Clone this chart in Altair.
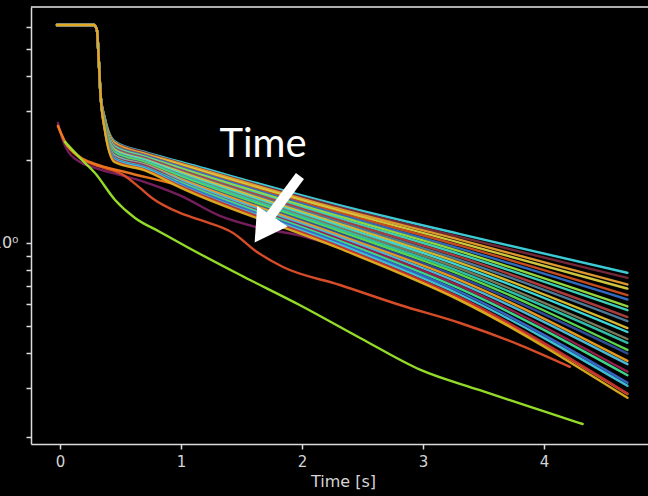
import altair as alt
import pandas as pd

# ---- fan of curves (24 runs): shared flat start and sharp drop ----
t_head = [-0.025, 0.28, 0.305, 0.32, 0.335]
v_head = [6.12, 6.12, 5.87, 4.58, 3.42]

t_fan = [0.37, 0.45, 0.7, 1.0, 2.3, 3.3, 4.69]
col_037 = [2.83, 2.82, 2.81, 2.80, 2.78, 2.77, 2.76, 2.75, 2.74, 2.72, 2.71, 2.70,
           2.69, 2.68, 2.67, 2.65, 2.64, 2.63, 2.62, 2.61, 2.60, 2.58, 2.57, 2.56]
col_045 = [2.33, 2.31, 2.30, 2.28, 2.27, 2.25, 2.23, 2.22, 2.20, 2.19, 2.17, 2.15,
           2.14, 2.12, 2.11, 2.09, 2.07, 2.06, 2.04, 2.02, 2.01, 1.99, 1.98, 1.96]
col_070 = [2.13, 2.12, 2.10, 2.09, 2.08, 2.07, 2.05, 2.04, 2.03, 2.01, 2.00, 1.99,
           1.97, 1.96, 1.95, 1.93, 1.92, 1.91, 1.90, 1.88, 1.87, 1.86, 1.84, 1.83]
col_100 = [1.96, 1.94, 1.93, 1.91, 1.89, 1.88, 1.86, 1.84, 1.83, 1.81, 1.80, 1.78,
           1.76, 1.75, 1.73, 1.71, 1.70, 1.68, 1.66, 1.65, 1.63, 1.61, 1.60, 1.58]
col_230 = [1.371, 1.350, 1.329, 1.309, 1.288, 1.268, 1.249, 1.229, 1.211, 1.192, 1.174, 1.156,
           1.138, 1.121, 1.103, 1.086, 1.070, 1.053, 1.037, 1.021, 1.005, 0.990, 0.974, 0.959]
col_330 = [1.078, 1.052, 1.028, 1.003, 0.980, 0.956, 0.934, 0.912, 0.890, 0.869, 0.849, 0.829,
           0.809, 0.790, 0.772, 0.753, 0.736, 0.718, 0.701, 0.685, 0.668, 0.653, 0.637, 0.622]
col_469 = [0.780, 0.748, 0.708, 0.684, 0.648, 0.625, 0.590, 0.572, 0.540, 0.522, 0.493, 0.477,
           0.450, 0.436, 0.411, 0.399, 0.375, 0.365, 0.343, 0.333, 0.313, 0.305, 0.286, 0.276]
fan_colors = ["#3fd6e0", "#7a2a3a", "#e8a030", "#d8d040", "#d05020", "#3070c8",
              "#9be040", "#40d8c0", "#b04040", "#5080a0", "#e0c030", "#40e0e0",
              "#808060", "#30c8b0", "#60e050", "#3050a0", "#f0a020", "#50c0e0",
              "#a02050", "#40e090", "#3a6ad0", "#40c8e0", "#c03030", "#e0b020"]

# ---- early runs that start lower ----
t_purple = [-0.017, 0.017, 0.058, 0.165, 0.289, 0.645, 1.0, 1.322, 1.653, 1.959, 2.198]
v_purple = [2.71, 2.39, 2.17, 1.96, 1.866, 1.689, 1.478, 1.252, 1.133, 1.069, 1.0]

t_red = [-0.017, 0.041, 0.165, 0.289, 0.537, 0.661, 0.760, 0.992, 1.157, 1.430, 1.628,
         1.843, 2.314, 2.810, 3.306, 3.802, 4.215]
v_red = [2.645, 2.316, 2.027, 1.912, 1.746, 1.580, 1.454, 1.283, 1.211, 1.087, 0.928,
         0.819, 0.705, 0.597, 0.514, 0.428, 0.357]

t_orange = [-0.017, 0.041, 0.165, 0.289, 0.537, 1.0, 2.3, 3.3, 4.69]
v_orange = [2.645, 2.316, 2.044, 1.928, 1.804, 1.606, 0.97, 0.63, 0.285]

t_green = [0.041, 0.165, 0.289, 0.455, 0.620, 0.826, 1.05, 1.49, 1.98, 2.48, 2.98, 3.47, 3.97, 4.32]
v_green = [2.316, 2.027, 1.789, 1.430, 1.231, 1.096, 0.967, 0.766, 0.597, 0.454, 0.348, 0.294, 0.249, 0.222]

special = [("purple", "#7a2060", t_purple, v_purple),
           ("red", "#e0502a", t_red, v_red),
           ("orange", "#f07a20", t_orange, v_orange),
           ("green", "#9ce62a", t_green, v_green)]

# annotation
ann_text = ["Time"]
ann_text_pos = [1.678, 2.044]
arrow_tail = [1.983, 1.746]
arrow_neck = [1.702, 1.191]
arrow_head = [1.682, 1.119]

y_ticks = [0.2, 0.3, 0.4, 0.5, 0.6, 0.7, 0.8, 0.9, 1, 2, 3, 4, 5, 6]
x_ticks = [0, 1, 2, 3, 4]

# ---- build table ----
rows = []
names, colors = [], []
for name, col, ts, vs in special:
    names.append(name); colors.append(col)
    for i, (t, v) in enumerate(zip(ts, vs)):
        rows.append({"series": name, "i": i, "t": t, "v": v})
cols = [col_037, col_045, col_070, col_100, col_230, col_330, col_469]
for k in range(len(fan_colors)):
    name = f"f{k:02d}"
    names.append(name); colors.append(fan_colors[k])
    ts = t_head + t_fan
    vs = v_head + [c[k] for c in cols]
    for i, (t, v) in enumerate(zip(ts, vs)):
        rows.append({"series": name, "i": i, "t": t, "v": v})
df = pd.DataFrame(rows)

W, H = 617, 437
xs = alt.Scale(domain=[-0.24, 4.86], nice=False, zero=False)
ys = alt.Scale(type="log", domain=[0.188, 7.11], nice=False)

axis_common = dict(grid=False, domainColor="#dcdcdc", tickColor="#dcdcdc",
                   labelColor="#d4d4d4", titleColor="#d4d4d4",
                   labelFont="DejaVu Sans", titleFont="DejaVu Sans",
                   domainWidth=1.5, tickWidth=1.5, tickSize=5)

lines = alt.Chart(df).mark_line(strokeWidth=2.4, opacity=0.95, strokeCap="round",
                                interpolate="monotone").encode(
    x=alt.X("t:Q", scale=xs, axis=alt.Axis(values=x_ticks, title="Time [s]", format="d",
                                            labelFontSize=15, titleFontSize=16,
                                            titleFontWeight="normal", labelPadding=5,
                                            titlePadding=4, titleX=312, **axis_common)),
    y=alt.Y("v:Q", scale=ys, axis=alt.Axis(values=y_ticks, title=None,
                                            labelExpr="datum.value == 1 ? '10⁰' : ''",
                                            labelFontSize=16, labelPadding=8,
                                            labelOverlap=False, **axis_common)),
    color=alt.Color("series:N", scale=alt.Scale(domain=names, range=colors), legend=None),
    order=alt.Order("i:Q"),
)

top_border = alt.Chart(pd.DataFrame({"a": [0]})).mark_rule(color="#e8e8e8", strokeWidth=1.5).encode(
    x=alt.value(0), x2=alt.value(W), y=alt.value(0))

shaft = alt.Chart(pd.DataFrame({"t": [arrow_tail[0]], "v": [arrow_tail[1]],
                                "t2": [arrow_neck[0]], "v2": [arrow_neck[1]]})).mark_rule(
    color="white", strokeWidth=10, strokeCap="butt").encode(
    x=alt.X("t:Q", scale=xs), y=alt.Y("v:Q", scale=ys), x2="t2:Q", y2="v2:Q")

head = alt.Chart(pd.DataFrame({"t": [arrow_head[0]], "v": [arrow_head[1]]})).mark_point(
    shape="triangle-up", filled=True, size=1350, angle=214, color="white", opacity=1).encode(
    x=alt.X("t:Q", scale=xs), y=alt.Y("v:Q", scale=ys))

label = alt.Chart(pd.DataFrame({"t": [ann_text_pos[0]], "v": [ann_text_pos[1]],
                                "txt": ann_text})).mark_text(
    font="Lato", fontSize=40, color="white", align="center", baseline="alphabetic").encode(
    x=alt.X("t:Q", scale=xs), y=alt.Y("v:Q", scale=ys), text="txt:N")

chart = alt.layer(lines, top_border, shaft, head, label).properties(
    width=W, height=H,
    padding={"left": 31, "top": 7, "right": 0, "bottom": 52},
    autosize=alt.AutoSizeParams(type="none"),
    background="black",
).configure_view(stroke=None, fill="black")

chart.save("out.html", embed_options={"renderer": "svg", "actions": False})
